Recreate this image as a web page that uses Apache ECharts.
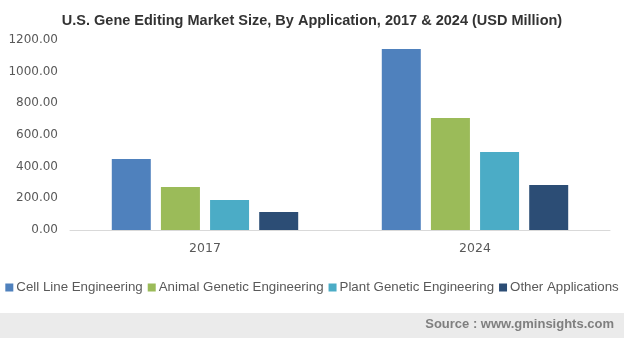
<!DOCTYPE html>
<html><head><meta charset="utf-8">
<script src="https://cdn.jsdelivr.net/npm/echarts@6/dist/echarts.min.js"></script>
<style>html,body{margin:0;padding:0;background:#fff}#c{width:624px;height:338px}</style>
</head><body><div id="c"></div>
<script>
var categories = ['2017', '2024'];
var cellLine = [448, 1143];
var animal = [272, 707];
var plant = [190, 493];
var other = [114, 284];
var seriesNames = ['Cell Line Engineering', 'Animal Genetic Engineering', 'Plant Genetic Engineering', 'Other Applications'];
var colors = ['#4f81bd', '#9bbb59', '#4bacc6', '#2c4d75'];
var yTicks = [0, 200, 400, 600, 800, 1000, 1200];

var chart = echarts.init(document.getElementById('c'), null, {renderer: 'canvas'});
var data = [cellLine, animal, plant, other];
chart.setOption({
  animation: false,
  title: {
    text: 'U.S. Gene Editing Market Size, By Application, 2017 & 2024 (USD Million)',
    left: 'center', top: 8,
    textStyle: {fontFamily: 'Liberation Sans', fontSize: 14.5, fontWeight: 'bold', color: '#333'}
  },
  graphic: [
    {type: 'rect', shape: {x: 0, y: 313, width: 624, height: 25}, style: {fill: '#ebebeb'}, silent: true},
    {type: 'text', right: 10, top: 318, style: {text: 'Source : www.gminsights.com', fill: '#7f7f7f', font: 'bold 13px "Liberation Sans"'}}
  ],
  legend: {
    data: seriesNames, left: 'center', top: 276, itemWidth: 8, itemHeight: 8, itemGap: 5, icon: 'rect',
    textStyle: {fontFamily: 'Liberation Sans', fontSize: 13.3, color: '#595959', padding: [0, 0, 0, -2]}
  },
  grid: {left: 70, right: 14, top: 40, bottom: 108},
  xAxis: {
    type: 'category', data: categories,
    axisLine: {lineStyle: {color: '#d9d9d9'}}, axisTick: {show: false},
    axisLabel: {fontFamily: 'DejaVu Sans', fontSize: 12.5, color: '#595959', margin: 12}
  },
  yAxis: {
    type: 'value', min: 0, max: 1200, interval: 200,
    splitLine: {show: false}, axisLine: {show: false}, axisTick: {show: false},
    axisLabel: {fontFamily: 'DejaVu Sans', fontSize: 12, color: '#595959', margin: 12,
      formatter: function (v) { return v.toFixed(2); }}
  },
  series: data.map(function (d, i) {
    return {name: seriesNames[i], type: 'bar', data: d, barWidth: 39, barGap: '26%',
      itemStyle: {color: colors[i]}};
  })
});
</script></body></html>
